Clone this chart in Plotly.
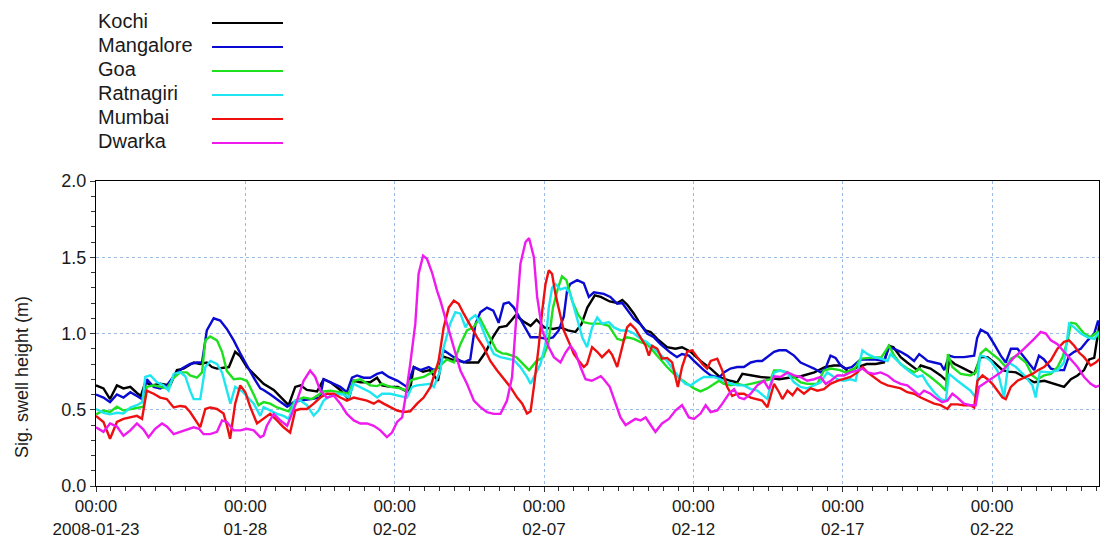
import pandas as pd
import plotly.graph_objects as go

# ---------------- data (days after 2008-01-23 00:00, swell height in m) ----------------
start_date = "2008-01-23"

kochi_days = [0.0, 0.25, 0.47, 0.70, 0.92, 1.15, 1.37, 1.50, 1.65, 1.87, 2.15, 2.48, 2.71, 2.93, 3.27, 3.49, 3.71, 3.88,
              4.05, 4.45, 4.66, 4.83, 5.05, 5.39, 5.61, 5.95, 6.45, 6.67, 6.85, 7.06, 7.40, 7.62, 7.85, 8.18, 8.46, 8.63,
              8.85, 9.18, 9.41, 9.58, 9.85, 10.10, 10.41, 10.52, 10.64, 10.95, 11.17, 11.45, 11.60, 11.90, 12.10, 12.40,
              12.80, 13.05, 13.30, 13.50, 13.75, 14.05, 14.30, 14.55, 14.75, 15.00, 15.30, 15.55, 15.80, 16.05, 16.25,
              16.45, 16.70, 16.90, 17.20, 17.45, 17.62, 17.78, 18.01, 18.23, 18.40, 18.57, 18.79, 19.12, 19.40, 19.62,
              19.91, 20.24, 20.58, 20.91, 21.24, 21.47, 21.64, 21.92, 22.25, 22.53, 22.87, 23.20, 23.60, 24.05, 24.40,
              24.70, 24.95, 25.20, 25.50, 25.80, 26.10, 26.38, 26.55, 26.70, 26.94, 27.16, 27.50, 27.61, 27.94, 28.28,
              28.48, 28.56, 28.75, 29.06, 29.40, 29.62, 29.85, 30.07, 30.35, 30.55, 30.80, 31.07, 31.41, 31.75, 32.05,
              32.41, 32.64, 32.86, 33.08, 33.25, 33.42, 33.53, 33.60]
kochi_vals = [0.66, 0.64, 0.57, 0.66, 0.64, 0.65, 0.61, 0.59, 0.68, 0.66, 0.67, 0.66, 0.76, 0.77, 0.81, 0.80, 0.81, 0.78,
              0.77, 0.78, 0.88, 0.85, 0.78, 0.71, 0.67, 0.63, 0.53, 0.65, 0.66, 0.63, 0.62, 0.70, 0.68, 0.63, 0.57, 0.69,
              0.68, 0.68, 0.71, 0.66, 0.65, 0.65, 0.62, 0.64, 0.78, 0.75, 0.76, 0.69, 0.85, 0.83, 0.82, 0.81,
              0.81, 0.88, 0.98, 1.04, 1.05, 1.12, 1.08, 1.05, 1.09, 1.04, 1.03, 1.04, 1.02, 1.01, 1.06,
              1.17, 1.25, 1.24, 1.21, 1.20, 1.22, 1.19, 1.13, 1.06, 1.02, 1.01, 0.965, 0.91, 0.90, 0.91,
              0.88, 0.82, 0.77, 0.71, 0.69, 0.68, 0.735, 0.725, 0.715, 0.71, 0.70, 0.71, 0.72, 0.745, 0.78,
              0.79, 0.79, 0.75, 0.78, 0.80, 0.80, 0.81, 0.92, 0.91, 0.845, 0.81, 0.76, 0.79, 0.77, 0.725,
              0.69, 0.83, 0.80, 0.77, 0.735, 0.845, 0.845, 0.81, 0.76, 0.75, 0.745, 0.715, 0.68, 0.69, 0.67,
              0.65, 0.70, 0.725, 0.76, 0.83, 0.84, 1.00, 1.07]

mangalore_days = [0.0, 0.25, 0.47, 0.70, 0.92, 1.15, 1.37, 1.54, 1.70, 1.93, 2.15, 2.37, 2.60, 2.88, 3.15, 3.38, 3.55,
                  3.71, 3.94, 4.16, 4.38, 4.61, 4.83, 5.05, 5.28, 5.50, 5.61, 5.84, 6.06, 6.40, 6.62, 6.85, 7.20, 7.50,
                  7.62, 7.85, 8.18, 8.40, 8.57, 8.74, 8.96, 9.18, 9.41, 9.58, 9.80, 10.10, 10.41, 10.64, 10.86, 11.14,
                  11.30, 11.50, 11.64, 11.98, 12.31, 12.53, 12.70, 12.87, 13.09, 13.30, 13.48, 13.65, 13.82, 13.99,
                  14.16, 14.38, 14.55, 14.80, 15.10, 15.30, 15.49, 15.66, 15.77, 15.88, 16.11, 16.33, 16.50, 16.67,
                  16.89, 17.00, 17.22, 17.45, 17.62, 17.78, 18.01, 18.23, 18.45, 18.68, 18.90, 19.23, 19.45, 19.62,
                  19.85, 20.02, 20.35, 20.58, 20.86, 21.02, 21.24, 21.47, 21.69, 21.92, 22.14, 22.30, 22.53, 22.70,
                  22.87, 23.10, 23.37, 23.59, 23.81, 24.04, 24.26, 24.42, 24.59, 24.76, 24.93, 25.10, 25.30, 25.60,
                  26.05, 26.38, 26.55, 26.72, 26.94, 27.16, 27.39, 27.56, 27.72, 27.84, 28.06, 28.28, 28.40, 28.56,
                  28.73, 29.06, 29.40, 29.50, 29.62, 29.85, 30.07, 30.29, 30.46, 30.63, 30.85, 31.07, 31.30, 31.41,
                  31.57, 31.74, 31.97, 32.19, 32.41, 32.58, 32.75, 32.97, 33.20, 33.42, 33.55, 33.62]
mangalore_vals = [0.60, 0.58, 0.55, 0.60, 0.58, 0.615, 0.59, 0.57, 0.70, 0.65, 0.64, 0.66, 0.72, 0.77, 0.80, 0.81, 0.81,
                  1.02, 1.10, 1.085, 1.03, 0.955, 0.87, 0.79, 0.71, 0.64, 0.63, 0.60, 0.57, 0.52, 0.55, 0.56, 0.57, 0.58,
                  0.70, 0.68, 0.65, 0.615, 0.71, 0.725, 0.71, 0.71, 0.735, 0.745, 0.715, 0.69, 0.65, 0.78, 0.76, 0.78,
                  0.76, 0.78, 0.89, 0.845, 0.81, 0.83, 1.06, 1.14, 1.17, 1.15, 1.07, 1.195, 1.205, 1.17,
                  1.11, 1.04, 0.975, 0.975, 0.965, 0.975, 1.02, 1.11, 1.28, 1.325, 1.35, 1.33, 1.24, 1.27,
                  1.26, 1.26, 1.24, 1.195, 1.20, 1.16, 1.095, 1.06, 1.00, 0.975, 0.93, 0.875, 0.845, 0.865,
                  0.855, 0.82, 0.76, 0.725, 0.71, 0.745, 0.77, 0.78, 0.78, 0.81, 0.82, 0.82, 0.855, 0.88,
                  0.89, 0.89, 0.855, 0.81, 0.79, 0.77, 0.745, 0.77, 0.855, 0.84, 0.79, 0.77, 0.78, 0.83,
                  0.83, 0.82, 0.91, 0.90, 0.88, 0.855, 0.82, 0.865, 0.84, 0.82, 0.81, 0.80, 0.76, 0.855,
                  0.845, 0.845, 0.855, 0.97, 1.025, 1.00, 0.93, 0.855, 0.81, 0.90, 0.90, 0.845, 0.79, 0.76,
                  0.855, 0.83, 0.77, 0.76, 0.76, 0.855, 0.88, 0.90, 0.955, 1.00, 1.085, 1.04]

goa_days = [0.0, 0.25, 0.47, 0.70, 0.92, 1.15, 1.37, 1.59, 1.70, 1.93, 2.15, 2.37, 2.60, 2.82, 3.04, 3.15, 3.38, 3.55,
            3.66, 3.82, 4.05, 4.22, 4.38, 4.61, 4.83, 5.05, 5.28, 5.44, 5.61, 5.83, 6.06, 6.45, 6.67, 6.95, 7.23, 7.51,
            7.62, 7.85, 8.18, 8.46, 8.63, 8.85, 9.18, 9.41, 9.58, 9.85, 10.19, 10.41, 10.52, 10.64, 10.97, 11.20,
            11.47, 11.75, 11.98, 12.20, 12.42, 12.63, 12.85, 13.18, 13.41, 13.60, 13.74, 14.07, 14.30, 14.50, 14.75,
            14.97, 15.14, 15.30, 15.47, 15.60, 15.75, 15.94, 16.15, 16.33, 16.55, 16.90, 17.17, 17.30, 17.45, 17.62,
            17.78, 18.01, 18.23, 18.45, 18.68, 18.90, 19.12, 19.35, 19.57, 19.79, 20.02, 20.24, 20.46, 20.68, 20.86,
            21.02, 21.24, 21.47, 21.69, 21.92, 22.14, 22.36, 22.59, 22.70, 22.90, 23.15, 23.37, 23.59, 23.81, 24.15,
            24.37, 24.60, 24.90, 25.10, 25.40, 25.60, 25.90, 26.30, 26.55, 26.72, 26.94, 27.16, 27.39, 27.56, 27.72,
            27.94, 28.28, 28.45, 28.52, 28.67, 28.95, 29.28, 29.45, 29.62, 29.79, 30.00, 30.23, 30.46, 30.63, 30.85,
            31.13, 31.35, 31.52, 31.74, 31.97, 32.19, 32.36, 32.53, 32.64, 32.80, 33.08, 33.30, 33.53, 33.62]
goa_vals = [0.47, 0.495, 0.485, 0.52, 0.495, 0.505, 0.515, 0.52, 0.65, 0.66, 0.65, 0.64, 0.71, 0.745, 0.745, 0.725, 0.71,
            0.745, 0.955, 0.98, 0.955, 0.88, 0.755, 0.70, 0.705, 0.69, 0.60, 0.53, 0.55, 0.54, 0.515, 0.49, 0.56, 0.58,
            0.57, 0.605, 0.62, 0.625, 0.615, 0.605, 0.69, 0.70, 0.66, 0.655, 0.67, 0.65, 0.64, 0.625, 0.69, 0.70,
            0.715, 0.74, 0.78, 0.83, 0.81, 0.93, 1.02, 1.04, 1.10, 0.976, 0.89, 0.87, 0.867, 0.845, 0.80, 0.76, 0.82,
            0.845, 0.93, 1.17, 1.30, 1.375, 1.35, 1.215, 1.12, 1.075, 1.065, 1.065, 1.05, 1.01, 0.965, 0.955,
            0.975, 0.965, 0.943, 0.93, 0.877, 0.83, 0.78, 0.735, 0.70, 0.67, 0.64, 0.62, 0.64, 0.67, 0.69,
            0.67, 0.66, 0.67, 0.66, 0.67, 0.68, 0.69, 0.70, 0.757, 0.757, 0.745, 0.715, 0.68, 0.67, 0.67,
            0.757, 0.77, 0.76, 0.745, 0.77, 0.835, 0.84, 0.845, 0.92, 0.855, 0.80, 0.77, 0.745, 0.77, 0.745,
            0.715, 0.66, 0.625, 0.865, 0.78, 0.735, 0.725, 0.745, 0.87, 0.90, 0.865, 0.83, 0.78, 0.835, 0.855,
            0.81, 0.725, 0.70, 0.725, 0.735, 0.78, 0.845, 0.955, 1.07, 1.065, 1.00, 0.975, 1.01, 0.955]

ratnagiri_days = [0.0, 0.25, 0.47, 0.70, 0.92, 1.15, 1.37, 1.55, 1.65, 1.82, 2.04, 2.26, 2.43, 2.60, 2.82, 2.99, 3.15,
                  3.27, 3.49, 3.66, 3.83, 4.05, 4.22, 4.38, 4.50, 4.66, 4.90, 5.28, 5.50, 5.61, 5.83, 6.06, 6.28, 6.45,
                  6.67, 6.84, 7.06, 7.29, 7.45, 7.62, 7.85, 8.07, 8.29, 8.46, 8.63, 8.85, 9.18, 9.41, 9.58, 9.85, 10.08,
                  10.41, 10.58, 10.75, 10.97, 11.20, 11.31, 11.53, 11.64, 11.86, 12.03, 12.20, 12.37, 12.53, 12.70,
                  12.87, 13.09, 13.32, 13.54, 13.76, 13.99, 14.21, 14.43, 14.55, 14.72, 14.88, 15.05, 15.16, 15.27,
                  15.38, 15.55, 15.72, 15.88, 16.11, 16.28, 16.44, 16.61, 16.78, 16.94, 17.17, 17.34, 17.56, 17.78,
                  18.01, 18.23, 18.45, 18.68, 18.90, 19.12, 19.35, 19.57, 19.74, 19.91, 20.13, 20.35, 20.68, 20.91,
                  21.13, 21.47, 21.69, 21.92, 22.14, 22.36, 22.48, 22.59, 22.70, 22.92, 23.15, 23.37, 23.59, 23.81,
                  24.04, 24.26, 24.48, 24.65, 24.82, 25.04, 25.26, 25.43, 25.55, 25.66, 25.83, 26.05, 26.27, 26.50,
                  26.60, 26.83, 27.05, 27.27, 27.50, 27.67, 27.84, 28.06, 28.28, 28.45, 28.56, 28.84, 29.06, 29.28,
                  29.45, 29.60, 29.75, 29.96, 30.18, 30.40, 30.55, 30.80, 31.13, 31.35, 31.46, 31.60, 31.97, 32.20,
                  32.41, 32.58, 32.75, 32.97, 33.20, 33.42, 33.60]
ratnagiri_vals = [0.505, 0.48, 0.47, 0.48, 0.475, 0.515, 0.53, 0.55, 0.715, 0.725, 0.68, 0.66, 0.625, 0.735, 0.745, 0.72,
                  0.625, 0.57, 0.57, 0.78, 0.82, 0.80, 0.745, 0.625, 0.54, 0.65, 0.62, 0.54, 0.46, 0.517, 0.495, 0.473,
                  0.46, 0.44, 0.56, 0.56, 0.53, 0.462, 0.495, 0.56, 0.593, 0.605, 0.60, 0.58, 0.67, 0.65, 0.615, 0.58,
                  0.605, 0.605, 0.593, 0.58, 0.65, 0.66, 0.665, 0.67, 0.65, 0.76, 0.91, 1.065, 1.14, 1.13, 1.04,
                  1.095, 1.12, 1.065, 0.955, 0.865, 0.845, 0.835, 0.825, 0.78, 0.715, 0.67, 0.735, 0.80, 0.93, 1.17,
                  1.30, 1.325, 1.29, 1.30, 1.26, 1.105, 0.975, 0.91, 1.04, 1.105, 1.065, 1.075, 1.04, 1.02, 1.02,
                  1.00, 0.965, 0.943, 0.90, 0.855, 0.82, 0.757, 0.70, 0.67, 0.66, 0.69, 0.715, 0.715, 0.70,
                  0.68, 0.66, 0.66, 0.635, 0.626, 0.59, 0.57, 0.67, 0.745, 0.757, 0.74, 0.68, 0.65, 0.64,
                  0.66, 0.68, 0.745, 0.725, 0.70, 0.69, 0.70, 0.69, 0.80, 0.89, 0.865, 0.845, 0.835, 0.82,
                  0.865, 0.82, 0.78, 0.745, 0.715, 0.725, 0.67, 0.615, 0.57, 0.56, 0.735, 0.69, 0.66, 0.625,
                  0.58, 0.855, 0.85, 0.82, 0.757, 0.58, 0.81, 0.78, 0.715, 0.66, 0.58, 0.75, 0.745, 0.76,
                  0.81, 1.065, 1.04, 1.00, 0.975, 0.965, 1.01]

mumbai_days = [0.0, 0.25, 0.47, 0.70, 0.92, 1.15, 1.37, 1.54, 1.70, 1.93, 2.15, 2.37, 2.60, 2.82, 2.99, 3.15, 3.38, 3.49,
               3.66, 3.82, 4.05, 4.27, 4.38, 4.49, 4.66, 4.83, 5.00, 5.16, 5.39, 5.61, 5.83, 6.06, 6.28, 6.50, 6.67, 6.84,
               7.06, 7.29, 7.51, 7.73, 7.96, 8.18, 8.40, 8.63, 8.85, 9.07, 9.30, 9.46, 9.63, 9.85, 10.08, 10.30, 10.52,
               10.75, 10.97, 11.20, 11.31, 11.47, 11.64, 11.81, 11.98, 12.14, 12.31, 12.53, 12.76, 12.98, 13.20, 13.43,
               13.65, 13.87, 14.10, 14.27, 14.43, 14.55, 14.66, 14.82, 14.94, 15.05, 15.16, 15.27, 15.38, 15.50, 15.66,
               15.83, 16.00, 16.17, 16.33, 16.44, 16.61, 16.78, 16.94, 17.17, 17.28, 17.45, 17.62, 17.78, 17.89, 18.06,
               18.23, 18.40, 18.51, 18.62, 18.79, 18.95, 19.12, 19.29, 19.40, 19.48, 19.62, 19.79, 19.96, 20.13, 20.30,
               20.46, 20.58, 20.80, 20.97, 21.13, 21.30, 21.47, 21.69, 21.92, 22.14, 22.30, 22.48, 22.60, 22.70, 22.87,
               22.98, 23.15, 23.32, 23.48, 23.70, 23.93, 24.15, 24.37, 24.59, 24.82, 25.04, 25.26, 25.49, 25.66, 25.83,
               26.05, 26.27, 26.50, 26.72, 26.94, 27.16, 27.39, 27.61, 27.84, 28.06, 28.28, 28.50, 28.62, 28.84, 29.06,
               29.28, 29.40, 29.51, 29.68, 29.85, 30.01, 30.18, 30.35, 30.46, 30.63, 30.85, 31.13, 31.35, 31.52, 31.74,
               31.97, 32.19, 32.41, 32.58, 32.75, 32.91, 33.08, 33.30, 33.47, 33.62]
mumbai_vals = [0.46, 0.42, 0.31, 0.42, 0.44, 0.45, 0.46, 0.44, 0.625, 0.605, 0.58, 0.57, 0.515, 0.525, 0.52, 0.485, 0.42,
               0.385, 0.505, 0.515, 0.505, 0.475, 0.40, 0.31, 0.54, 0.66, 0.615, 0.52, 0.41, 0.44, 0.473, 0.43, 0.385,
               0.35, 0.495, 0.505, 0.505, 0.54, 0.58, 0.605, 0.605, 0.58, 0.56, 0.58, 0.57, 0.56, 0.54, 0.56, 0.54,
               0.517, 0.495, 0.485, 0.49, 0.54, 0.58, 0.65, 0.715, 0.82, 1.04, 1.17, 1.215, 1.195, 1.13, 1.05, 0.975,
               0.91, 0.82, 0.757, 0.70, 0.65, 0.58, 0.54, 0.475, 0.49, 0.65, 0.91, 1.15, 1.325, 1.415, 1.39, 1.26,
               1.15, 1.02, 0.945, 0.865, 0.82, 0.78, 0.80, 0.91, 0.88, 0.845, 0.89, 0.86, 0.78, 0.91, 1.04, 1.063,
               1.03, 0.975, 0.92, 0.855, 0.92, 0.90, 0.835, 0.84, 0.81, 0.715, 0.65, 0.78, 0.88, 0.89, 0.845, 0.80,
               0.77, 0.82, 0.835, 0.757, 0.65, 0.59, 0.605, 0.605, 0.58, 0.57, 0.56, 0.517, 0.60, 0.67, 0.615,
               0.57, 0.625, 0.595, 0.64, 0.605, 0.64, 0.625, 0.635, 0.67, 0.69, 0.70, 0.715, 0.745, 0.78, 0.745,
               0.715, 0.68, 0.66, 0.65, 0.64, 0.615, 0.605, 0.58, 0.56, 0.54, 0.53, 0.505, 0.535, 0.535, 0.53,
               0.53, 0.515, 0.69, 0.725, 0.70, 0.67, 0.625, 0.58, 0.57, 0.65, 0.69, 0.715, 0.735, 0.757, 0.78,
               0.825, 0.90, 0.945, 0.955, 0.92, 0.875, 0.845, 0.79, 0.81, 0.835]

dwarka_days = [0.0, 0.25, 0.47, 0.70, 0.92, 1.15, 1.37, 1.59, 1.76, 1.98, 2.21, 2.37, 2.60, 2.82, 3.04, 3.27, 3.45, 3.60,
               3.82, 4.05, 4.22, 4.38, 4.61, 4.83, 5.05, 5.28, 5.50, 5.61, 5.72, 5.95, 6.17, 6.40, 6.56, 6.73, 6.95, 7.17,
               7.34, 7.51, 7.73, 7.96, 8.18, 8.40, 8.63, 8.85, 9.07, 9.30, 9.52, 9.74, 9.91, 10.08, 10.25, 10.36, 10.52,
               10.69, 10.80, 10.95, 11.08, 11.25, 11.42, 11.53, 11.75, 11.98, 12.20, 12.42, 12.65, 12.87, 13.09, 13.32,
               13.54, 13.76, 13.93, 14.04, 14.21, 14.38, 14.50, 14.66, 14.77, 14.94, 15.16, 15.33, 15.55, 15.72, 15.88,
               16.05, 16.22, 16.39, 16.60, 16.90, 17.00, 17.20, 17.39, 17.56, 17.73, 17.90, 18.06, 18.23, 18.40, 18.57,
               18.73, 18.95, 19.18, 19.40, 19.62, 19.85, 20.02, 20.24, 20.41, 20.58, 20.80, 20.97, 21.19, 21.36, 21.53,
               21.70, 21.92, 22.14, 22.36, 22.53, 22.70, 22.92, 23.15, 23.37, 23.59, 23.81, 24.04, 24.26, 24.43, 24.60,
               24.82, 25.04, 25.26, 25.49, 25.66, 25.83, 26.05, 26.27, 26.50, 26.72, 26.94, 27.16, 27.39, 27.56, 27.72,
               27.94, 28.17, 28.33, 28.50, 28.67, 28.84, 29.06, 29.28, 29.45, 29.56, 29.79, 30.07, 30.29, 30.51, 30.74,
               30.96, 31.18, 31.41, 31.63, 31.80, 31.97, 32.19, 32.41, 32.64, 32.86, 33.08, 33.30, 33.47, 33.62]
dwarka_vals = [0.385, 0.355, 0.41, 0.39, 0.33, 0.365, 0.41, 0.37, 0.32, 0.375, 0.41, 0.39, 0.34, 0.355, 0.365, 0.385,
               0.375, 0.34, 0.34, 0.355, 0.43, 0.42, 0.365, 0.365, 0.375, 0.365, 0.32, 0.33, 0.395, 0.473, 0.43, 0.395,
               0.473, 0.56, 0.69, 0.757, 0.715, 0.625, 0.58, 0.593, 0.54, 0.473, 0.43, 0.41, 0.41, 0.395, 0.365, 0.32,
               0.35, 0.42, 0.45, 0.58, 0.80, 1.063, 1.39, 1.51, 1.49, 1.40, 1.28, 1.215, 1.065, 0.91, 0.757, 0.67,
               0.56, 0.517, 0.485, 0.473, 0.473, 0.56, 0.715, 1.02, 1.457, 1.60, 1.625, 1.50, 1.24, 1.02, 0.91,
               0.845, 0.81, 0.875, 0.92, 0.875, 0.78, 0.70, 0.69, 0.72, 0.70, 0.65, 0.54, 0.45, 0.40, 0.42, 0.44,
               0.43, 0.45, 0.40, 0.355, 0.41, 0.44, 0.495, 0.53, 0.45, 0.44, 0.475, 0.53, 0.485, 0.495, 0.54,
               0.605, 0.635, 0.58, 0.57, 0.605, 0.66, 0.69, 0.635, 0.72, 0.715, 0.745, 0.725, 0.715, 0.69, 0.70,
               0.715, 0.67, 0.69, 0.725, 0.725, 0.745, 0.757, 0.77, 0.745, 0.735, 0.745, 0.725, 0.69, 0.67, 0.66,
               0.625, 0.595, 0.625, 0.605, 0.57, 0.55, 0.56, 0.605, 0.58, 0.54, 0.53, 0.53, 0.65, 0.68, 0.715,
               0.745, 0.79, 0.845, 0.88, 0.92, 0.965, 1.01, 1.00, 0.955, 0.93, 0.88, 0.825, 0.78, 0.715, 0.67,
               0.65, 0.66]

series_names = ["Kochi", "Mangalore", "Goa", "Ratnagiri", "Mumbai", "Dwarka"]
series_days = [kochi_days, mangalore_days, goa_days, ratnagiri_days, mumbai_days, dwarka_days]
series_vals = [kochi_vals, mangalore_vals, goa_vals, ratnagiri_vals, mumbai_vals, dwarka_vals]
series_colors = ["#000000", "#0a0ad2", "#1ee01e", "#1ee6f0", "#ee1010", "#ee1aee"]

tick_days = [0, 5, 10, 15, 20, 25, 30]
tick_labels = ["00:00<br>2008-01-23", "00:00<br>01-28", "00:00<br>02-02", "00:00<br>02-07",
               "00:00<br>02-12", "00:00<br>02-17", "00:00<br>02-22"]
y_ticks = [0.0, 0.5, 1.0, 1.5, 2.0]
y_title = "Sig. swell height (m)"
x_end_days = 33.58

# ---------------- figure ----------------
t0 = pd.Timestamp(start_date)


def to_time(days):
    return [t0 + pd.Timedelta(days=d) for d in days]


W, H = 1100, 550
L, R, T, B = 96, 1, 181, 64
pw, ph = W - L - R, H - T - B

fig = go.Figure()
for name, d, v, c in zip(series_names, series_days, series_vals, series_colors):
    fig.add_trace(go.Scatter(x=to_time(d), y=v, mode="lines", name=name,
                             line=dict(color=c, width=2.4), showlegend=False))

font_family = "Liberation Sans, Arial, sans-serif"
grid_color = "#9dbbe6"

fig.update_layout(
    width=W, height=H,
    margin=dict(l=L, r=R, t=T, b=B, autoexpand=False),
    paper_bgcolor="white", plot_bgcolor="white",
    font=dict(family=font_family, size=17, color="#1a1a1a"),
)
fig.update_xaxes(
    type="date",
    range=[t0, t0 + pd.Timedelta(days=x_end_days)],
    tickvals=to_time(tick_days), ticktext=tick_labels,
    ticks="outside", ticklen=5, tickcolor="#333",
    showline=True, linecolor="black", linewidth=1, mirror=True,
    showgrid=True, gridcolor=grid_color, griddash="dot", gridwidth=1,
    zeroline=False,
    minor=dict(dtick=12 * 3600 * 1000, tick0=t0, ticks="outside", ticklen=4, tickcolor="#333", showgrid=False),
    tickfont=dict(size=17),
)
fig.update_yaxes(
    range=[0, 2.0],
    tickvals=y_ticks, tickformat=".1f",
    ticks="outside", ticklen=5, tickcolor="#333",
    showline=True, linecolor="black", linewidth=1, mirror=True,
    showgrid=True, gridcolor=grid_color, griddash="dot", gridwidth=1,
    zeroline=False,
    minor=dict(dtick=0.1, ticks="outside", ticklen=4, tickcolor="#333", showgrid=False),
    tickfont=dict(size=18),
)


def px_to_paper(xpx, ypx):
    return (xpx - L) / pw, (H - B - ypx) / ph


# y-axis title
tx, ty = px_to_paper(22, 377)
fig.add_annotation(x=tx, y=ty, xref="paper", yref="paper", text=y_title, textangle=-90,
                   showarrow=False, font=dict(size=18, color="#1a1a1a"), xanchor="center", yanchor="middle")

# custom legend: name on the left, line sample on the right
legend_text_y = [21, 45, 69, 93, 117, 141]
for i, (name, c) in enumerate(zip(series_names, series_colors)):
    ax_, ay_ = px_to_paper(96, legend_text_y[i])
    fig.add_annotation(x=ax_, y=ay_, xref="paper", yref="paper", text=name, showarrow=False,
                       xanchor="left", yanchor="middle", font=dict(size=20, color="#1a1a1a"))
    x0, y0 = px_to_paper(212, legend_text_y[i] + 2)
    x1, _ = px_to_paper(283, legend_text_y[i] + 2)
    fig.add_shape(type="line", xref="paper", yref="paper", x0=x0, x1=x1, y0=y0, y1=y0,
                  line=dict(color=c, width=2))

fig.write_html("out.html")
